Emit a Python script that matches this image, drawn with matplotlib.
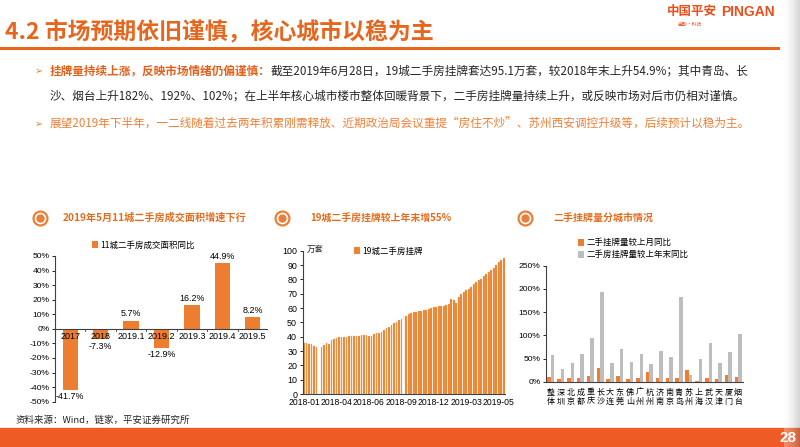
import numpy as np
import matplotlib
matplotlib.use("Agg")
import matplotlib.pyplot as plt
from matplotlib.patches import Rectangle
from matplotlib.lines import Line2D

plt.rcParams['font.family'] = ['Noto Sans CJK SC', 'DejaVu Sans']
plt.rcParams['axes.unicode_minus'] = False

# ---------------- data ----------------
c1_categories = ['2017', '2018', '2019.1', '2019.2', '2019.3', '2019.4', '2019.5']
c1_values = [-41.7, -7.3, 5.7, -12.9, 16.2, 44.9, 8.2]

c2_values = [35.8, 35.3, 35.0, 34.9, 33.5, 33.0, np.nan, 32.6, 34.2, 35.8,
             35.0, 37.7, 38.4, 39.0, 39.5, 39.8, 40.0, 40.0, 40.2, 40.7,
             40.7, 40.5, 40.2, 41.0, 41.2, 41.0, 40.8, 40.6, 41.8, 42.3,
             42.8, 43.5, 44.5, 45.8, 46.8, 48.0, 49.5, 50.5, 51.5, 52.5,
             np.nan, 54.5, 55.5, 56.8, 57.2, 57.5, 58.0, 58.2, 58.3, 58.8,
             59.5, 60.3, 60.8, 61.0, 61.3, 61.5, 61.7, 62.0, 62.5, 66.0,
             65.5, 63.5, 67.5, 70.0, 71.5, 72.5, 73.5, 74.5, 76.5, 78.0,
             79.5, 80.5, 82.0, 83.5, 85.0, 86.5, 88.0, 90.0, 92.0, 93.5, 95.1]
c2_tick_labels = ['2018-01', '2018-04', '2018-06', '2018-09', '2018-12', '2019-03', '2019-05']
c2_tick_step = 13

c3_cities = ['整体', '深圳', '北京', '成都', '重庆', '长沙', '大连', '东莞', '佛山', '广州',
             '杭州', '济南', '南京', '青岛', '苏州', '上海', '武汉', '天津', '厦门', '烟台']
c3_mom = [10, 6, 8, 8, 13.6, 30, 6, 12, 6, 9, 22, 9, 8, 9, 25.7, 2, 9, 7, 14, 10]
c3_ytd = [58.6, 27.9, 40, 60.7, 93.6, 194, 41.4, 70.7, 43, 60.7,
          37.9, 67, 53.6, 183.6, 15.7, 50, 83.6, 40, 64, 103.6]

ORANGE = '#ED7D31'
TITLE_OR = '#E5661C'
GRAY = '#BDBDBD'
NUMF = ['Liberation Sans', 'DejaVu Sans']
W, H = 800, 447

fig = plt.figure(figsize=(8, 4.47), dpi=100)
fig.patch.set_facecolor('white')


def fx(x):
    return x / W


def fy(y):
    return 1 - y / H


# ---------------- header ----------------
fig.text(fx(5), fy(32), '4.2 市场预期依旧谨慎，核心城市以稳为主', fontsize=16.5, color=TITLE_OR,
         fontweight='bold', va='center', ha='left')
fig.text(fx(667), fy(12), '中国平安', fontsize=9, color='#E8501E', fontweight='bold', va='center')
fig.text(fx(721), fy(12), 'PINGAN', fontsize=10, color='#E8501E', fontweight='bold', va='center',
         family=NUMF)
fig.text(fx(678), fy(24), '金融·科技', fontsize=3.5, color='#E8501E', va='center')
fig.add_artist(Line2D([0, fx(778)], [fy(48), fy(48)], color='#E8661C', lw=2.2,
                      transform=fig.transFigure))

# bullets
bfs = 8.4
fig.text(fx(35), fy(71), '➢', fontsize=7, color=ORANGE, va='center', family=['DejaVu Sans'])
t1 = fig.text(fx(50), fy(71), '挂牌量持续上涨，反映市场情绪仍偏谨慎：', fontsize=bfs, color='#E2601A',
              fontweight='bold', va='center')
fig.canvas.draw()
ext = t1.get_window_extent(renderer=fig.canvas.get_renderer())
x_after = fig.transFigure.inverted().transform((ext.x1, ext.y0))[0]
fig.text(x_after, fy(71), '截至2019年6月28日，19城二手房挂牌套达95.1万套，较2018年末上升54.9%；其中青岛、长',
         fontsize=bfs, color='#262626', va='center')
fig.text(fx(50), fy(96), '沙、烟台上升182%、192%、102%；在上半年核心城市楼市整体回暖背景下，二手房挂牌量持续上升，或反映市场对后市仍相对谨慎。',
         fontsize=bfs, color='#262626', va='center')
fig.text(fx(35), fy(124), '➢', fontsize=7, color=ORANGE, va='center', family=['DejaVu Sans'])
fig.text(fx(50), fy(124), '展望2019年下半年，一二线随着过去两年积累刚需释放、近期政治局会议重提“房住不炒”、苏州西安调控升级等，后续预计以稳为主。',
         fontsize=bfs, color='#F07F36', va='center')


# chart titles with ring icons
def ring(x, y):
    fig.add_artist(Line2D([fx(x)], [fy(y)], marker='o', markersize=10, markerfacecolor='white',
                          markeredgecolor='#E8803A', markeredgewidth=1.6, transform=fig.transFigure))
    fig.add_artist(Line2D([fx(x)], [fy(y)], marker='o', markersize=5, markerfacecolor='#E8803A',
                          markeredgecolor='#E8803A', transform=fig.transFigure))


ring(40, 218)
fig.text(fx(63), fy(218), '2019年5月11城二手房成交面积增速下行', fontsize=7.3, color='#E46C1E',
         fontweight='bold', va='center')
ring(282, 218)
fig.text(fx(310), fy(218), '19城二手房挂牌较上年末增55%', fontsize=7.1, color='#E46C1E',
         fontweight='bold', va='center')
ring(525, 218)
fig.text(fx(553), fy(218), '二手挂牌量分城市情况', fontsize=7.2, color='#E46C1E',
         fontweight='bold', va='center')

tfs = 6.1

# ---------------- chart 1 ----------------
ax1 = fig.add_axes([fx(55), fy(401.7), (268 - 55) / W, (401.7 - 256) / H])
x1 = np.arange(len(c1_categories))
ax1.bar(x1, c1_values, width=0.5, color=ORANGE, label='11城二手房成交面积同比', zorder=2)
ax1.set_xlim(-0.5, len(c1_categories) - 0.5)
ax1.set_ylim(-50, 50)
ax1.set_yticks(np.arange(-50, 51, 10))
ax1.set_yticklabels([f'{v}%' for v in range(-50, 51, 10)], fontsize=tfs, family=NUMF)
for s in ['top', 'right', 'bottom']:
    ax1.spines[s].set_visible(False)
ax1.spines['left'].set_color('#404040')
ax1.spines['left'].set_linewidth(0.8)
ax1.tick_params(axis='y', length=2.5, width=0.6, pad=1.5)
ax1.axhline(0, color='#404040', lw=0.8, zorder=3)
for b in np.arange(0.5, len(c1_categories) - 0.5, 1.0):
    ax1.plot([b, b], [0, -1.5], color='#404040', lw=0.6, zorder=3)
ax1.set_xticks([])
for i, c in enumerate(c1_categories):
    ax1.text(i, -2.0, c, ha='center', va='top', fontsize=tfs + 0.4, family=NUMF, zorder=4)
for i, v in enumerate(c1_values):
    if v >= 0:
        ax1.text(i, v + 1.5, f'{v}%', ha='center', va='bottom', fontsize=tfs + 0.3, family=NUMF)
    else:
        ax1.text(i, v - 1.8, f'{v}%', ha='center', va='top', fontsize=tfs + 0.3, family=NUMF)
ax1.legend(loc='center left', bbox_to_anchor=(fx(92), fy(245)), bbox_transform=fig.transFigure,
           frameon=False, fontsize=tfs, handlelength=0.7, handleheight=0.9, handletextpad=0.3,
           borderaxespad=0, borderpad=0)
ax1.patch.set_alpha(0)

# ---------------- chart 2 ----------------
ax2 = fig.add_axes([fx(302.7), fy(394), (505 - 302.7) / W, (394 - 250.7) / H])
x2 = np.arange(len(c2_values))
ax2.bar(x2, c2_values, width=0.68, color='#E8832E', edgecolor='#F2B27A', linewidth=0.2,
        label='19城二手房挂牌')
ax2.set_xlim(-0.5, len(c2_values) - 0.5)
ax2.set_ylim(0, 100)
ax2.set_yticks(np.arange(0, 101, 10))
ax2.set_yticklabels([str(v) for v in range(0, 101, 10)], fontsize=tfs + 0.3, family=NUMF)
tick_pos = np.arange(len(c2_tick_labels)) * c2_tick_step
ax2.set_xticks(tick_pos)
ax2.set_xticklabels(c2_tick_labels, fontsize=tfs + 0.1, family=NUMF)
for s in ['top', 'right']:
    ax2.spines[s].set_visible(False)
for s in ['left', 'bottom']:
    ax2.spines[s].set_color('#404040')
    ax2.spines[s].set_linewidth(0.8)
ax2.tick_params(axis='y', length=2.5, width=0.6, pad=1.5)
ax2.tick_params(axis='x', length=0, pad=3)
fig.text(fx(307), fy(249), '万套', fontsize=tfs, color='#222222', va='center')
ax2.legend(loc='center left', bbox_to_anchor=(fx(354), fy(251)), bbox_transform=fig.transFigure,
           frameon=False, fontsize=tfs, handlelength=0.7, handleheight=0.9, handletextpad=0.3,
           borderaxespad=0, borderpad=0)

# ---------------- chart 3 ----------------
ax3 = fig.add_axes([fx(546), fy(382), (743 - 546) / W, (382 - 265.7) / H])
x3 = np.arange(len(c3_cities))
bw = 0.36
ax3.bar(x3 - bw / 2, c3_mom, width=bw, color=ORANGE, label='二手挂牌量较上月同比', zorder=3)
ax3.bar(x3 + bw / 2, c3_ytd, width=bw, color=GRAY, label='二手房挂牌量较上年末同比', zorder=2)
ax3.set_xlim(-0.5, len(c3_cities) - 0.5)
ax3.set_ylim(0, 250)
ax3.set_yticks(np.arange(0, 251, 50))
ax3.set_yticklabels([f'{v}%' for v in range(0, 251, 50)], fontsize=tfs, family=NUMF)
ax3.set_xticks(x3)
ax3.set_xticklabels(['\n'.join(c) for c in c3_cities], fontsize=5.8, linespacing=1.0)
for s in ['top', 'right']:
    ax3.spines[s].set_visible(False)
for s in ['left', 'bottom']:
    ax3.spines[s].set_color('#404040')
    ax3.spines[s].set_linewidth(0.8)
ax3.tick_params(axis='y', length=2.5, width=0.6, pad=1.5)
ax3.tick_params(axis='x', length=0, pad=4)
ax3.legend(loc='upper left', bbox_to_anchor=(fx(578), fy(238)), bbox_transform=fig.transFigure,
           frameon=False, fontsize=tfs, handlelength=0.7, handleheight=0.9, handletextpad=0.3,
           labelspacing=0.35, borderaxespad=0, borderpad=0)

# ---------------- footer ----------------
fig.text(fx(15), fy(420), '资料来源：Wind，链家，平安证券研究所', fontsize=6.8, color='#222222', va='center')
fig.add_artist(Rectangle((0, 0), 1, 19 / H, transform=fig.transFigure, color='#EF5B25', zorder=0))

# right-edge shading
axg = fig.add_axes([fx(784), 0, 16 / W, 1], zorder=10)
grad = np.linspace(0, 1, 50)[None, :]
axg.imshow(grad, aspect='auto', cmap='Greys', alpha=0.3, vmin=0, vmax=1.6, extent=(0, 1, 0, 1))
axg.set_axis_off()

fig.text(fx(797), fy(438), '28', fontsize=11, color='white', fontweight='bold', ha='right', va='center',
         family=NUMF, zorder=20)

fig.savefig('out.png', dpi=100)
